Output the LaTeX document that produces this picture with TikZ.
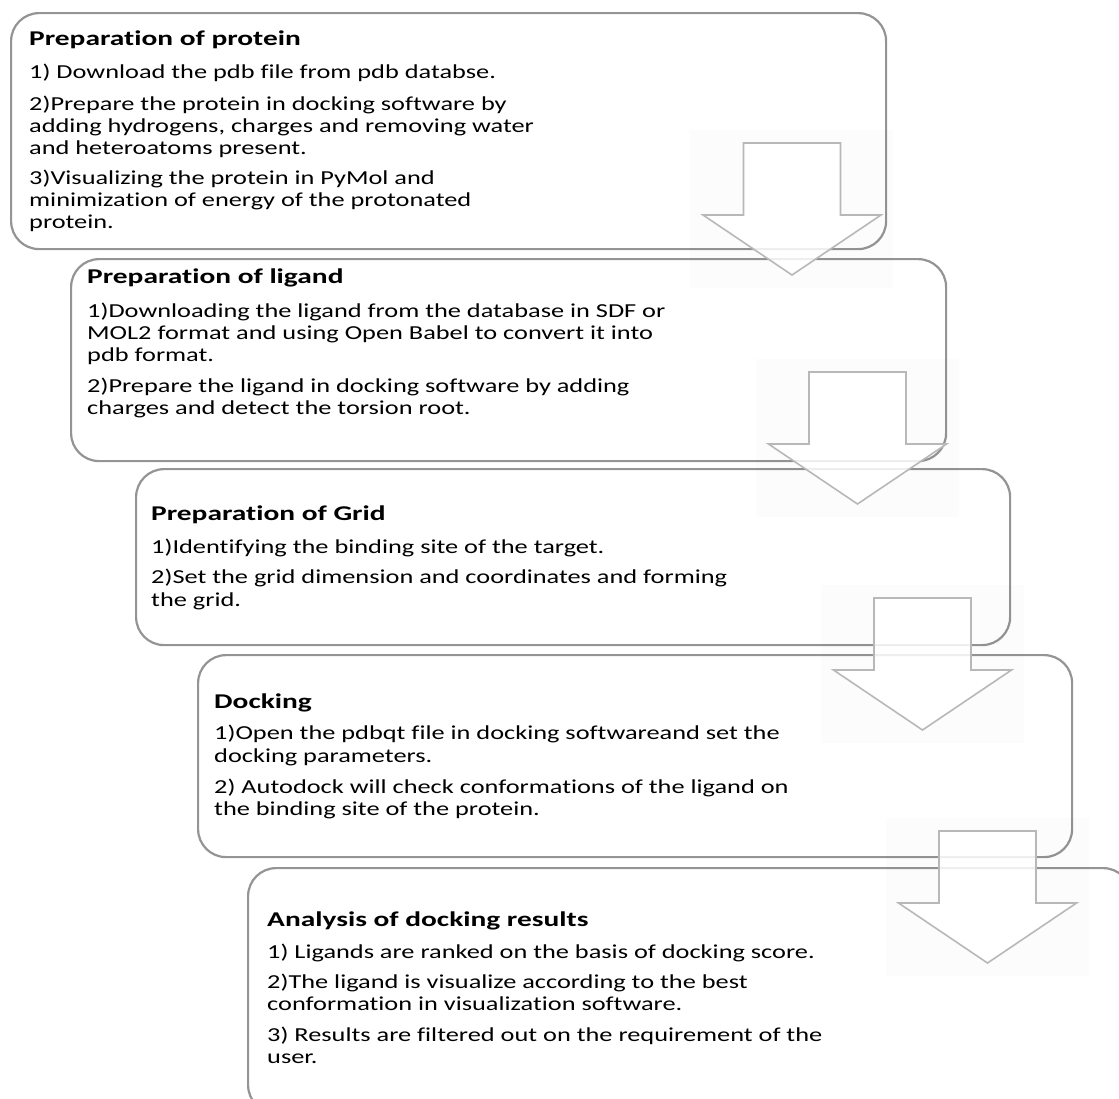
\documentclass[tikz,border=0pt]{standalone}
\usepackage{fontspec}
\setmainfont{Carlito}[FakeStretch=1.33, RawFeature=-liga]
\newfontfamily\headfont{Carlito}[FakeStretch=1.4, RawFeature=-liga]
\begin{document}
\begin{tikzpicture}[x=1bp,y=-1bp,
  boxline/.style={draw=black!42, line width=2.2bp, rounded corners=28bp, anchor=north west, inner sep=0pt},
  txt/.style={anchor=base west, inner sep=0pt, font=\fontsize{19.8bp}{22bp}\selectfont},
  head/.style={anchor=base west, inner sep=0pt, font=\headfont\fontsize{21bp}{24bp}\selectfont\bfseries},
  arrowbg/.style={fill=black, fill opacity=0.012, draw=none},
  blockarrow/.style={draw=black!28, line width=1.6bp, fill=white, fill opacity=0.85, line join=miter},
]
\useasboundingbox (0,0) rectangle (1119,1099);
% boxes
\node[boxline, minimum width=875bp, minimum height=236bp] (b1) at (10,12) {};
\node[boxline, minimum width=875bp, minimum height=202bp] (b2) at (70,258) {};
\node[boxline, minimum width=874bp, minimum height=176bp] (b3) at (135,468) {};
\node[boxline, minimum width=874bp, minimum height=202bp] (b4) at (197,654) {};
\node[boxline, minimum width=883bp, minimum height=245bp] (b5) at (247,867) {};
% box 1 text
\node[head] (t1h) at (29,45) {Preparation of protein};
\node[txt] (t1a) at (29,78) {1) Download the pdb file from pdb databse.};
\node[txt] (t1b) at (29,110) {2)Prepare the protein in docking software by};
\node[txt] (t1c) at (29,132) {adding hydrogens, charges and removing water};
\node[txt] (t1d) at (29,154) {and heteroatoms present.};
\node[txt] (t1e) at (29,184) {3)Visualizing the protein in PyMol and};
\node[txt] (t1f) at (29,206) {minimization of energy of the protonated};
\node[txt] (t1g) at (29,228) {protein.};
% box 2 text
\node[head] (t2h) at (87,283) {Preparation of ligand};
\node[txt] (t2a) at (87,317) {1)Downloading the ligand from the database in SDF or};
\node[txt] (t2b) at (87,339) {MOL2 format and using Open Babel to convert it into};
\node[txt] (t2c) at (87,361) {pdb format.};
\node[txt] (t2d) at (87,392) {2)Prepare the ligand in docking software by adding};
\node[txt] (t2e) at (87,414) {charges and detect the torsion root.};
% box 3 text
\node[head] (t3h) at (151,520) {Preparation of Grid};
\node[txt] (t3a) at (151,553) {1)Identifying the binding site of the target.};
\node[txt] (t3b) at (151,583) {2)Set the grid dimension and coordinates and forming};
\node[txt] (t3c) at (151,606) {the grid.};
% box 4 text
\node[head] (t4h) at (214,708) {Docking};
\node[txt] (t4a) at (214,739) {1)Open the pdbqt file in docking softwareand set the};
\node[txt] (t4b) at (214,762) {docking parameters.};
\node[txt] (t4c) at (214,793) {2) Autodock will check conformations of the ligand on};
\node[txt] (t4d) at (214,815) {the binding site of the protein.};
% box 5 text
\node[head] (t5h) at (267,926) {Analysis of docking results};
\node[txt] (t5a) at (267,958) {1) Ligands are ranked on the basis of docking score.};
\node[txt] (t5b) at (267,988) {2)The ligand is visualize according to the best};
\node[txt] (t5c) at (267,1010) {conformation in visualization software.};
\node[txt] (t5d) at (267,1041) {3) Results are filtered out on the requirement of the};
\node[txt] (t5e) at (267,1063) {user.};
% block arrows
\foreach \cx/\ty in {792/143, 857.5/372, 922.5/598, 987.5/831} {
  \fill[arrowbg] (\cx-102,\ty-13) rectangle (\cx+101,\ty+145);
  \draw[blockarrow] (\cx-48.5,\ty) -- (\cx+48.5,\ty) -- (\cx+48.5,\ty+72)
    -- (\cx+89,\ty+72) -- (\cx,\ty+132) -- (\cx-89,\ty+72) -- (\cx-48.5,\ty+72) -- cycle;
}
\end{tikzpicture}
\end{document}
